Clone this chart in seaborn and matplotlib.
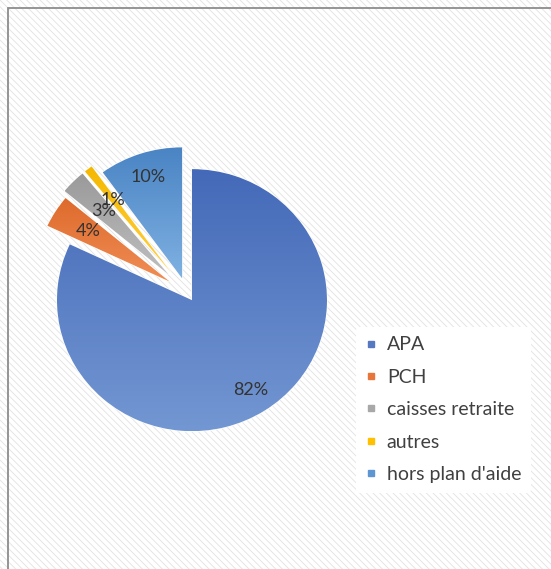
import numpy as np
import matplotlib
matplotlib.use("Agg")
import matplotlib.pyplot as plt
import seaborn as sns
from matplotlib.colors import LinearSegmentedColormap
from matplotlib.patches import Rectangle
from matplotlib.lines import Line2D

# Répartition des bénéficiaires par financeur du plan d'aide
categories = ["APA", "PCH", "caisses retraite", "autres", "hors plan d'aide"]
values = [82, 4, 3, 1, 10]
explode = [0.073, 0.15, 0.19, 0.19, 0.11]
label_dist = [0.81, 0.715, 0.685, 0.704, 0.815]

base_colors = ["#5678C0", "#E8763A", "#A8A8A8", "#FFC000", "#5E96D2"]
grad_top = ["#4469B8", "#DE6A2C", "#9A9A9A", "#F5B800", "#4A84C4"]
grad_bottom = ["#7397D2", "#F08E55", "#BEBEBE", "#FFD040", "#7FB1E2"]

sns.set_theme(style="white")
plt.rcParams["font.family"] = ["Lato", "DejaVu Sans"]
plt.rcParams["hatch.linewidth"] = 0.6

fig = plt.figure(figsize=(5.51, 5.69), dpi=100)
fig.patch.set_facecolor("white")

# textured background and chart frame
W, H = 551, 569
bg = Rectangle((0, 0), 1, 1, transform=fig.transFigure, facecolor="white",
               edgecolor="#e2e2e2", hatch="\\\\\\\\\\", linewidth=0, zorder=-10)
fig.patches.append(bg)
frame = Rectangle((8 / W, -0.05), 1.1, (H - 8) / H + 0.05, transform=fig.transFigure,
                  facecolor="none", edgecolor="#8c8c8c", linewidth=1.3, zorder=-9)
fig.patches.append(frame)

ax = fig.add_axes([0.00808, 0.1759, 0.6615, 0.6216])
ax.patch.set_alpha(0)

wedges, _ = ax.pie(values, explode=explode, colors=base_colors, startangle=90,
                   counterclock=False, radius=1.0)

# vertical gradient fill clipped to each slice
grad = np.linspace(0, 1, 256).reshape(-1, 1)
for w, top, bot in zip(wedges, grad_top, grad_bottom):
    cmap = LinearSegmentedColormap.from_list("g", [top, bot])
    bb = w.get_path().get_extents(w.get_patch_transform())
    im = ax.imshow(grad, cmap=cmap, aspect="auto",
                   extent=(bb.x0, bb.x1, bb.y0, bb.y1), origin="upper", zorder=w.get_zorder() + 0.1)
    im.set_clip_path(w)

# percentage labels placed along each slice's bisector
for w, v, d in zip(wedges, values, label_dist):
    mid = np.deg2rad((w.theta1 + w.theta2) / 2)
    cx, cy = w.center
    ax.text(cx + d * np.cos(mid), cy + d * np.sin(mid), f"{v:.0f}%",
            ha="center", va="center", fontsize=13, color="#333333", zorder=5)

ax.set_aspect("auto")
ax.set_xlim(-1.35, 1.35)
ax.set_ylim(-1.35, 1.35)
ax.set_position([0.00808, 0.1759, 0.6615, 0.6216])
ax.axis("off")

handles = [Line2D([0], [0], marker="s", linestyle="none", markersize=5,
                  markerfacecolor=c, markeredgecolor=c) for c in base_colors]
leg = fig.legend(handles, categories, loc="upper left", bbox_to_anchor=(346 / W, 1 - 317 / H),
                 frameon=True, fontsize=14, handlelength=0.6, handletextpad=0.5,
                 labelspacing=0.79, borderpad=0.5, labelcolor="#404040")
leg.get_frame().set_facecolor("white")
leg.get_frame().set_edgecolor("none")
leg.get_frame().set_alpha(1)

fig.savefig("out.png", dpi=100, facecolor="white")
